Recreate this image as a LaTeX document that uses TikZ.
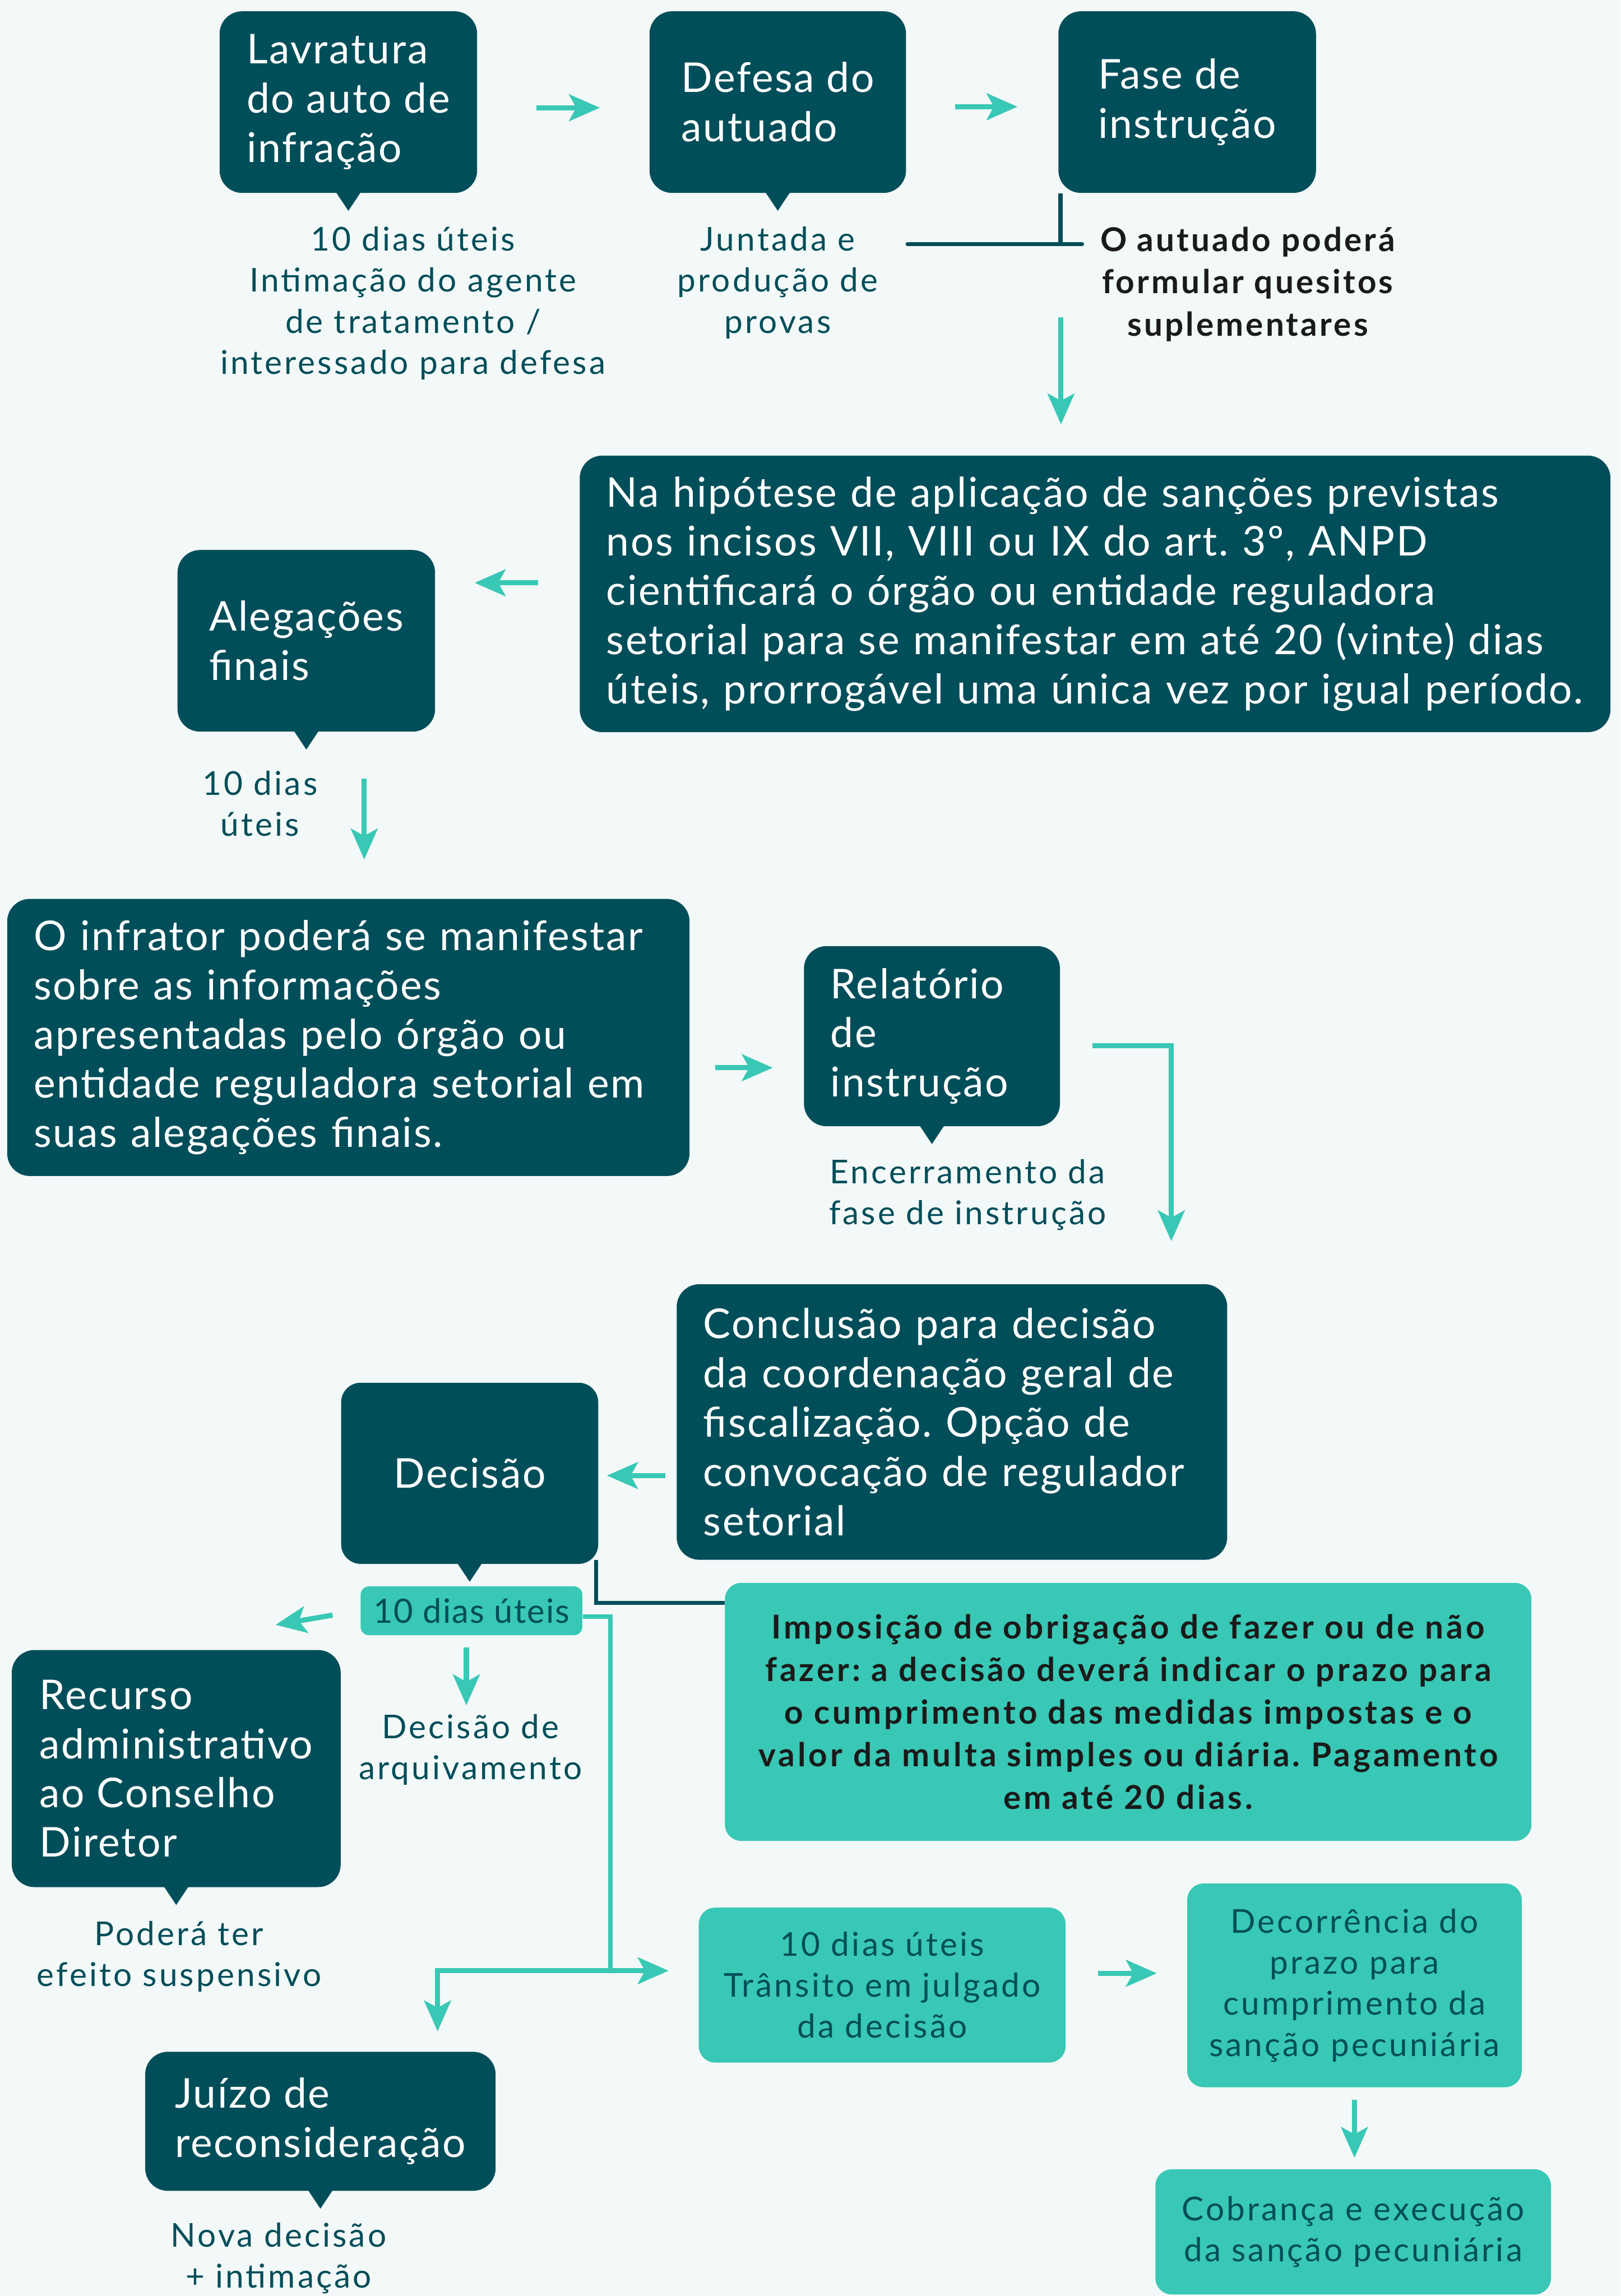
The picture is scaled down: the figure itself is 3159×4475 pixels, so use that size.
\documentclass[tikz,border=0pt]{standalone}
\usepackage{fontspec}
\setmainfont{Lato}
\newfontfamily\boxf{Lato}[LetterSpace=3.5]
\newfontfamily\labf{Lato}[LetterSpace=7]
\newfontfamily\blabf{Lato}[LetterSpace=8.5]
\usetikzlibrary{arrows.meta}
\definecolor{dk}{HTML}{004E59}
\definecolor{tl}{HTML}{38C8B5}
\definecolor{bg}{HTML}{F3F8F8}
\definecolor{ink}{HTML}{1A1A1A}
\newcommand\boxtail[1]{\fill[dk] ([xshift=-6pt,yshift=0.5pt]#1.south) -- ([xshift=6pt,yshift=0.5pt]#1.south) -- ([yshift=-8.5pt]#1.south) -- cycle;}
\frenchspacing
\begin{document}
\begin{tikzpicture}[x=0.25pt,y=-0.25pt,
 dbox/.style={fill=dk, rounded corners=11pt, text=white, font=\boxf\fontsize{20}{24}\selectfont, align=left, inner xsep=13pt, inner ysep=0pt},
 lbox/.style={fill=tl, rounded corners=8pt, text=dk, font=\labf\fontsize{16}{20}\selectfont, align=center, inner sep=0pt},
 lab/.style={text=dk, font=\labf\fontsize{16}{20}\selectfont, align=center, inner sep=0pt},
 blab/.style={text=ink, font=\labf\bfseries\fontsize{16}{20.5}\selectfont, align=center, inner sep=0pt},
 arr/.style={draw=tl, line width=2.5pt, line join=miter, -{Stealth[length=15pt,width=13pt,inset=3.5pt]}},
 tline/.style={draw=tl, line width=2.3pt},
 dline/.style={draw=dk, line width=2pt}]
\useasboundingbox (0,0) rectangle (3159,4475);
\fill[bg] (0,0) rectangle (3159,4475);

% dark boxes
\node[dbox, inner xsep=8pt, minimum width=125.5pt, minimum height=88.5pt] (B1) at (679,199) {Lavratura\\do auto de\\infração};
\node[dbox, inner xsep=8pt, minimum width=125pt, minimum height=88.5pt] (B2) at (1516,199) {Defesa do\\autuado};
\node[dbox, inner xsep=8pt, minimum width=125.5pt, minimum height=88.5pt] (B3) at (2314,199) {Fase de\\instrução};
\node[dbox, text width=476.25pt, minimum height=134.75pt] (B4) at (2134.5,1157.5) {Na hipótese de aplicação de sanções previstas\\nos incisos VII, VIII ou IX do art. 3º, ANPD\\cientificará o órgão ou entidade reguladora\\setorial para se manifestar em até 20 (vinte) dias\\úteis, prorrogável uma única vez por igual período.};
\node[dbox, inner xsep=8pt, minimum width=125.5pt, minimum height=88.5pt] (B5) at (597,1249) {Alegações\\finais};
\node[dbox, text width=306.5pt, minimum height=135pt] (B6) at (679,2022) {O infrator poderá se manifestar\\sobre as informações\\apresentadas pelo órgão ou\\entidade reguladora setorial em\\suas alegações finais.};
\node[dbox, text width=98.75pt, minimum height=87.75pt] (B7) at (1816.5,2019.5) {Relatório\\de\\instrução};
\node[dbox, text width=242.25pt, minimum height=134.25pt] (B8) at (1855.5,2771.5) {Conclusão para decisão\\da coordenação geral de\\fiscalização. Opção de\\convocação de regulador\\setorial};
\node[dbox, align=center, rounded corners=9.5pt, text width=99.25pt, minimum height=88.25pt] (B9) at (915.5,2871.5) {Decisão};
\node[dbox, inner xsep=8pt, minimum width=160.25pt, minimum height=115.5pt] (B10) at (343.5,3447) {Recurso\\administrativo\\ao Conselho\\Diretor};
\node[dbox, inner xsep=8pt, minimum width=170.75pt, minimum height=67.75pt] (B11) at (624.5,4134.5) {Juízo de\\reconsideração};

\boxtail{B1}
\boxtail{B2}
\boxtail{B5}
\boxtail{B7}
\boxtail{B9}
\boxtail{B10}
\boxtail{B11}

% light boxes
\node[lbox, rounded corners=4pt, minimum width=108pt, minimum height=23.75pt, font=\boxf\fontsize{16.3}{20}\selectfont] (S) at (919,3139.5) {10 dias úteis};
\node[lbox, minimum width=393pt, minimum height=125.75pt, text=ink, font=\blabf\bfseries\fontsize{16}{20.7}\selectfont] (B12) at (2199,3336.5) {Imposição de obrigação de fazer ou de não\\fazer: a decisão deverá indicar o prazo para\\o cumprimento das medidas impostas e o\\valor da multa simples ou diária. Pagamento\\em até 20 dias.};
\node[lbox, minimum width=178.75pt, minimum height=75.5pt] (B13) at (1719.5,3869) {10 dias úteis\\Trânsito em julgado\\da decisão};
\node[lbox, minimum width=163pt, minimum height=99.25pt] (B14) at (2640,3869.5) {Decorrência do\\prazo para\\cumprimento da\\sanção pecuniária};
\node[lbox, minimum width=192.75pt, minimum height=61pt] (B15) at (2637.5,4350) {Cobrança e execução\\da sanção pecuniária};

% labels
\node[lab] (L1) at (805,591) {10 dias úteis\\Intimação do agente\\de tratamento /\\interessado para defesa};
\node[lab] (L2) at (1516,551) {Juntada e\\produção de\\provas};
\node[blab] (L3) at (2432,554) {O autuado poderá\\formular quesitos\\suplementares};
\node[lab] (L5) at (507,1566) {10 dias\\úteis};
\node[lab] (L7) at (1886,2329) {Encerramento da\\fase de instrução};
\node[lab] (L9) at (917,3410) {Decisão de\\arquivamento};
\node[lab] (L10) at (349,3813) {Poderá ter\\efeito suspensivo};
\node[lab] (L11) at (543,4401) {Nova decisão\\+ intimação};

% connectors
\draw[arr] ([xshift=28.75pt,yshift=-2.75pt]B1.east) -- ([xshift=-24pt,yshift=-2.75pt]B2.west);
\draw[arr] ([xshift=23.75pt,yshift=-2.25pt]B2.east) -- ([xshift=-19.75pt,yshift=-2.25pt]B3.west);
\coordinate (jl) at (1769,476);
\coordinate (jr) at (2109,476);
\draw[dline, line cap=round] (jl) -- (jr);
\draw[dline] ([xshift=1.25pt]B3.south west) -- ([xshift=1.25pt]B3.south west |- jr);
\coordinate (a3) at (2068,618);
\draw[arr] (a3) -- ([yshift=15pt]a3 |- B4.north);
\draw[arr] ([xshift=-20pt,yshift=5.4pt]B4.west) -- ++(-124,0);
\draw[arr] ([xshift=7.75pt,yshift=58.5pt]B6.north) -- ([xshift=7.75pt,yshift=19pt]B6.north);
\draw[arr] ([xshift=12.25pt,yshift=-14.75pt]B6.east) -- ([xshift=-15pt,yshift=-14.75pt]B6.east -| B7.west);
\draw[arr] ([xshift=15.75pt,yshift=-4.6pt]B7.east) -| ([xshift=106.9pt,yshift=20.75pt]B8.north);
\draw[arr] ([xshift=-5.25pt,yshift=-26.1pt]B8.west) -- ++(-114,0);
\draw[dline] ([xshift=-1.25pt,yshift=2pt]B9.south east) |- ([yshift=53.1pt]B12.west);
\coordinate (br) at (1190,3841);
\draw[tline] ([yshift=-2.9pt]S.east) -| (br);
\draw[arr] (br) -- ([xshift=-14.5pt,yshift=7pt]B13.west);
\draw[arr] (br) -| ([xshift=57.1pt,yshift=9.75pt]B11.north);
\draw[arr] ([xshift=-2.5pt,yshift=-5.75pt]S.south) -- ++(0,113);
\draw[arr] ([xshift=-13.5pt,yshift=-2.1pt]S.west) -- ++(-111,19);
\draw[arr] ([xshift=15.5pt,yshift=5.75pt]B13.east) -- ++(115,0);
\draw[arr] ([yshift=-6pt]B14.south) -- ++(0,113);
\end{tikzpicture}
\end{document}
